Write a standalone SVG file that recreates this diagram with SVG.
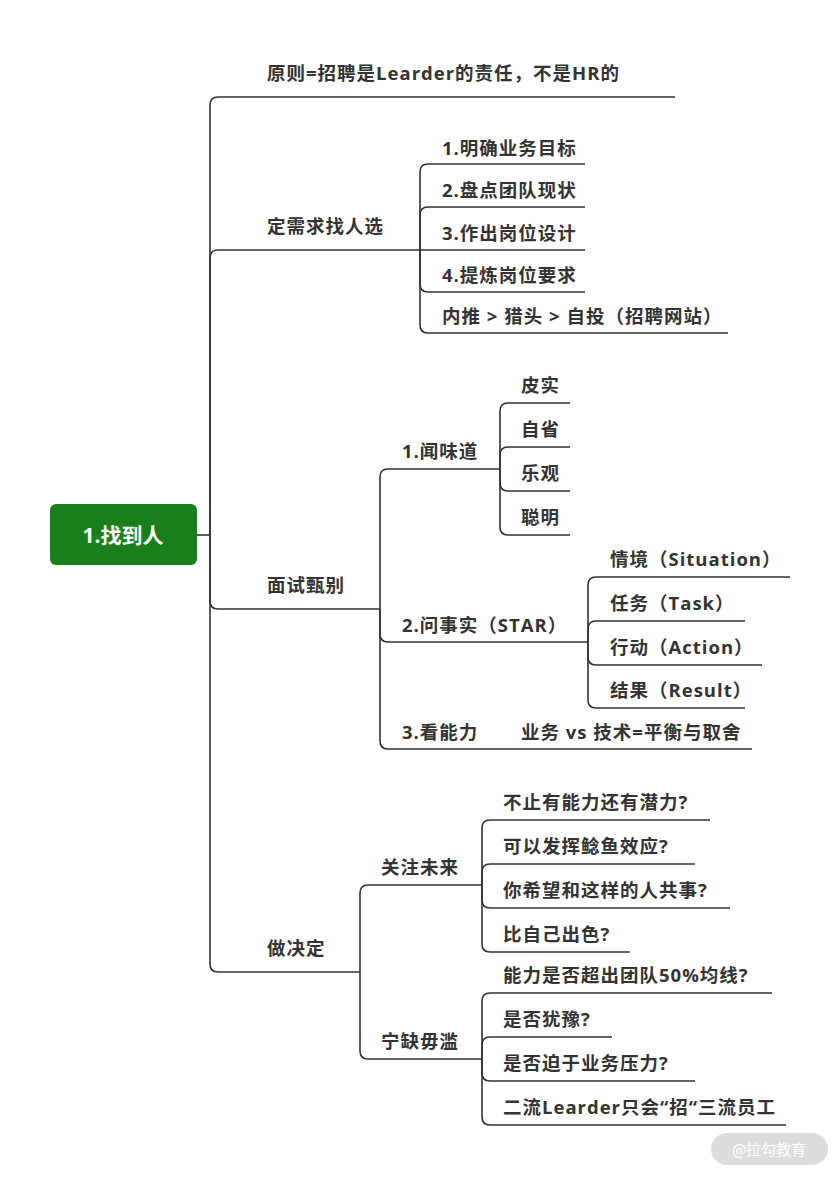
<svg xmlns="http://www.w3.org/2000/svg" width="840" height="1177" viewBox="0 0 840 1177">
<style>
.t{font-family:"Open Sans","Noto Sans CJK SC",sans-serif;font-weight:bold;font-size:18.5px;fill:#333;letter-spacing:1px}
.c path{fill:none;stroke:#333;stroke-width:1.6}
</style>
<rect width="840" height="1177" fill="#fff"/>
<g class="c" id="connectors">
<path d="M197 535H210"/>
<path d="M210 535V105Q210 97 218 97H675"/>
<path d="M210 535V258Q210 250 218 250H420"/>
<path d="M210 535V601Q210 609 218 609H380"/>
<path d="M210 535V964Q210 972 218 972H360"/>
<path d="M420 250V172Q420 164 428 164H585"/>
<path d="M420 250V215Q420 207 428 207H585"/>
<path d="M420 250H585"/>
<path d="M420 250V284Q420 292 428 292H585"/>
<path d="M420 250V325Q420 333 428 333H728"/>
<path d="M380 609V477Q380 469 388 469H500"/>
<path d="M380 609V634Q380 642 388 642H588"/>
<path d="M380 609V741Q380 749 388 749H752"/>
<path d="M500 469V411Q500 403 508 403H570"/>
<path d="M500 469V455Q500 447 508 447H570"/>
<path d="M500 469V483Q500 491 508 491H570"/>
<path d="M500 469V527Q500 535 508 535H570"/>
<path d="M588 642V585Q588 577 596 577H790"/>
<path d="M588 642V629Q588 621 596 621H745"/>
<path d="M588 642V657Q588 665 596 665H762"/>
<path d="M588 642V700Q588 708 596 708H745"/>
<path d="M360 972V893Q360 885 368 885H482"/>
<path d="M360 972V1051Q360 1059 368 1059H482"/>
<path d="M482 885V828Q482 820 490 820H710"/>
<path d="M482 885V872Q482 864 490 864H695"/>
<path d="M482 885V900Q482 908 490 908H730"/>
<path d="M482 885V944Q482 952 490 952H630"/>
<path d="M482 1059V1001Q482 993 490 993H772"/>
<path d="M482 1059V1045Q482 1037 490 1037H612"/>
<path d="M482 1059V1073Q482 1081 490 1081H695"/>
<path d="M482 1059V1117Q482 1125 490 1125H786"/>
</g>
<g id="root"><rect x="50" y="504" width="147" height="61" rx="6" fill="#1a7f1a"/><text x="123" y="543" text-anchor="middle" class="t" style="fill:#fff;font-size:21px;letter-spacing:0">1.找到人</text></g>
<g id="n1"><text x="267" y="80" class="t">原则=招聘是Learder的责任，不是HR的</text></g>
<g id="n2"><text x="267" y="233" class="t">定需求找人选</text></g>
<g id="n2a"><text x="442" y="155" class="t">1.明确业务目标</text></g>
<g id="n2b"><text x="442" y="197" class="t">2.盘点团队现状</text></g>
<g id="n2c"><text x="442" y="240" class="t">3.作出岗位设计</text></g>
<g id="n2d"><text x="442" y="282" class="t">4.提炼岗位要求</text></g>
<g id="n2e"><text x="442" y="323" class="t">内推 &gt; 猎头 &gt; 自投（招聘网站）</text></g>
<g id="n3"><text x="267" y="592" class="t">面试甄别</text></g>
<g id="n3a"><text x="402" y="458" class="t">1.闻味道</text></g>
<g id="n3a1"><text x="521" y="392" class="t">皮实</text></g>
<g id="n3a2"><text x="521" y="436" class="t">自省</text></g>
<g id="n3a3"><text x="521" y="480" class="t">乐观</text></g>
<g id="n3a4"><text x="521" y="524" class="t">聪明</text></g>
<g id="n3b"><text x="402" y="632" class="t">2.问事实（STAR）</text></g>
<g id="n3b1"><text x="610" y="566" class="t">情境（Situation）</text></g>
<g id="n3b2"><text x="610" y="610" class="t">任务（Task）</text></g>
<g id="n3b3"><text x="610" y="654" class="t">行动（Action）</text></g>
<g id="n3b4"><text x="610" y="697" class="t">结果（Result）</text></g>
<g id="n3c"><text x="402" y="739" class="t">3.看能力</text></g>
<g id="n3c1"><text x="521" y="739" class="t">业务 vs 技术=平衡与取舍</text></g>
<g id="n4"><text x="267" y="955" class="t">做决定</text></g>
<g id="n4a"><text x="381" y="874" class="t">关注未来</text></g>
<g id="n4a1"><text x="503" y="809" class="t">不止有能力还有潜力?</text></g>
<g id="n4a2"><text x="503" y="853" class="t">可以发挥鲶鱼效应?</text></g>
<g id="n4a3"><text x="503" y="897" class="t">你希望和这样的人共事?</text></g>
<g id="n4a4"><text x="503" y="941" class="t">比自己出色?</text></g>
<g id="n4b"><text x="381" y="1048" class="t">宁缺毋滥</text></g>
<g id="n4b1"><text x="503" y="982" class="t">能力是否超出团队50%均线?</text></g>
<g id="n4b2"><text x="503" y="1026" class="t">是否犹豫?</text></g>
<g id="n4b3"><text x="503" y="1070" class="t">是否迫于业务压力?</text></g>
<g id="n4b4"><text x="503" y="1114" class="t">二流Learder只会“招“三流员工</text></g>
<g id="wm"><rect x="711" y="1133" width="117" height="32" rx="16" fill="#ddd"/><text x="769" y="1155" text-anchor="middle" style="font-family:'Noto Sans CJK SC',sans-serif;font-size:15px;fill:#fff">@拉勾教育</text></g>
</svg>
